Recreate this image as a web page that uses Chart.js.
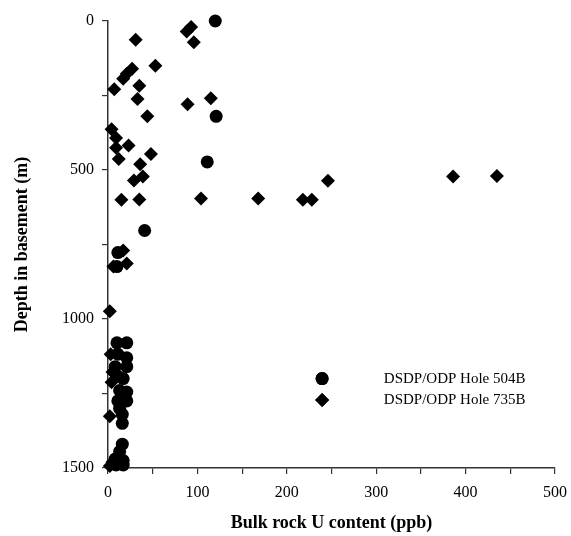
<!DOCTYPE html>
<html>
<head>
<meta charset="utf-8">
<script src="https://cdn.jsdelivr.net/npm/chart.js@4.4.0/dist/chart.umd.min.js"></script>
<style>
  html, body { margin: 0; padding: 0; background: #fff; }
  #wrap { width: 571px; height: 536px; position: relative; }
</style>
</head>
<body>
<div id="wrap"><canvas id="uChart"></canvas></div>
<script>
// Bulk rock U content (ppb) vs depth in basement (m)
const hole504B_U = [120, 121, 111, 41, 11, 10, 10, 21, 11, 21, 8, 21, 10, 17, 13, 21, 11, 21, 13, 16, 16, 16, 13, 8, 17, 9, 17];
const hole504B_depth = [0, 320, 473, 703, 777, 824, 1080, 1080, 1118, 1130, 1160, 1160, 1190, 1200, 1240, 1245, 1275, 1275, 1300, 1320, 1350, 1420, 1445, 1470, 1475, 1490, 1490];

const hole735B_U = [88, 93, 96, 31, 53, 27, 21, 17, 35, 7, 115, 33, 89, 44, 4, 9, 23, 9, 48, 12, 36, 39, 29, 15, 35, 104, 168, 218, 228, 246, 386, 435, 17, 21, 6, 2, 3, 5, 4, 2, 5, 2];
const hole735B_depth = [35, 20, 71, 63, 150, 160, 177, 194, 217, 229, 259, 262, 279, 320, 363, 393, 418, 425, 446, 463, 481, 522, 535, 600, 599, 596, 596, 600, 600, 536, 522, 520, 770, 814, 824, 974, 1118, 1178, 1212, 1326, 1480, 1493];

const seriesNames = ['DSDP/ODP Hole 504B', 'DSDP/ODP Hole 735B'];

function toPoints(xs, ys) {
    return xs.map((x, i) => ({ x: x, y: ys[i] }));
}

const serif = '"Liberation Serif", "DejaVu Serif", serif';
const axisColor = '#333';

// legend drawn inside the plot area, bottom right
const innerLegend = {
    id: 'innerLegend',
    afterDraw(chart) {
        const ctx = chart.ctx;
        const area = chart.chartArea;
        const w = area.right - area.left;
        const h = area.bottom - area.top;
        const mx = area.left + w * 0.479;
        const tx = area.left + w * 0.617;
        const rows = [area.top + h * 0.80, area.top + h * 0.848];
        ctx.save();
        ctx.font = '15px ' + serif;
        ctx.fillStyle = '#000';
        ctx.textBaseline = 'middle';
        chart.data.datasets.forEach((ds, i) => {
            Chart.helpers.drawPoint(ctx, { pointStyle: ds.pointStyle, radius: ds.pointRadius, borderWidth: 0 }, mx, rows[i]);
            ctx.fill();
            ctx.fillText(ds.label, tx, rows[i]);
        });
        ctx.restore();
    }
};

const ctx = document.getElementById('uChart').getContext('2d');
const uChart = new Chart(ctx, {
    type: 'scatter',
    data: {
        datasets: [{
            label: seriesNames[0],
            data: toPoints(hole504B_U, hole504B_depth),
            pointStyle: 'circle',
            pointRadius: 6.5,
            backgroundColor: '#000',
            borderColor: '#000',
            borderWidth: 0,
            clip: false
        }, {
            label: seriesNames[1],
            data: toPoints(hole735B_U, hole735B_depth),
            pointStyle: 'rectRot',
            pointRadius: 7,
            backgroundColor: '#000',
            borderColor: '#000',
            borderWidth: 0,
            clip: false
        }]
    },
    options: {
        responsive: true,
        maintainAspectRatio: false,
        animation: false,
        layout: { padding: { left: 0, top: 21, right: 16, bottom: 0 } },
        plugins: {
            legend: { display: false },
            tooltip: { enabled: false }
        },
        scales: {
            x: {
                type: 'linear',
                min: 0,
                max: 500,
                border: { color: axisColor, width: 1.5 },
                grid: { drawOnChartArea: false, drawTicks: true, tickLength: 6, color: axisColor, lineWidth: 1.2 },
                ticks: {
                    stepSize: 50,
                    autoSkip: false,
                    maxRotation: 0,
                    padding: 9,
                    color: '#000',
                    font: { family: serif, size: 16 },
                    callback: v => (v % 100 === 0 ? v : '')
                },
                title: {
                    display: true,
                    text: 'Bulk rock U content (ppb)',
                    color: '#000',
                    font: { family: serif, size: 18, weight: 'bold' },
                    padding: { top: 4, bottom: 2 }
                },
                afterFit: scale => {
                    scale.height = 68;
                    scale.paddingLeft = 0;
                    scale.paddingRight = 0;
                }
            },
            y: {
                type: 'linear',
                min: 0,
                max: 1500,
                reverse: true,
                border: { color: axisColor, width: 1.5 },
                grid: { drawOnChartArea: false, drawTicks: true, tickLength: 6, color: axisColor, lineWidth: 1.2 },
                ticks: {
                    stepSize: 250,
                    autoSkip: false,
                    padding: 8,
                    color: '#000',
                    font: { family: serif, size: 16 },
                    callback: v => (v % 500 === 0 ? v : '')
                },
                title: {
                    display: true,
                    text: 'Depth in basement (m)',
                    color: '#000',
                    font: { family: serif, size: 18, weight: 'bold' },
                    padding: { top: 12, bottom: 4 }
                },
                afterFit: scale => {
                    scale.width = 108;
                    scale.paddingTop = 0;
                    scale.paddingBottom = 0;
                }
            }
        }
    },
    plugins: [innerLegend]
});
</script>
</body>
</html>
